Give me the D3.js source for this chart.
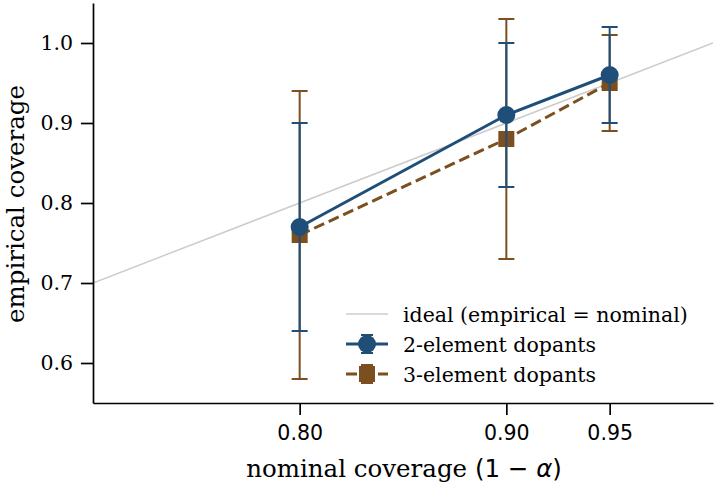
<!DOCTYPE html>
<html><head><meta charset="utf-8">
<script src="https://cdn.jsdelivr.net/npm/d3@7"></script>
<style>body{margin:0;background:#fff}svg{display:block}</style>
</head><body>
<script>
const nominal = [0.80, 0.90, 0.95];
const cov2 = [0.77, 0.91, 0.96];
const err2 = [0.13, 0.09, 0.06];
const cov3 = [0.76, 0.88, 0.95];
const err3 = [0.18, 0.15, 0.06];
const xTicks = [0.80, 0.90, 0.95];
const yTicks = [0.6, 0.7, 0.8, 0.9, 1.0];
const seriesNames = ["2-element dopants", "3-element dopants"];
const idealName = "ideal (empirical = nominal)";

const W = 717, H = 488;
const m = {l: 93, r: 4, t: 3, b: 85};
const blue = "#1f4e79", brown = "#7b4f1f";
const svg = d3.select("body").append("svg").attr("width", W).attr("height", H);
const x = d3.scaleLinear().domain([0.70, 1.00]).range([m.l, W - m.r]);
const y = d3.scaleLinear().domain([0.55, 1.05]).range([H - m.b, m.t]);

const plot = svg.append("g");
plot.append("clipPath").attr("id","c").append("rect").attr("x",m.l).attr("y",m.t).attr("width",W-m.r-m.l).attr("height",H-m.b-m.t);
const pg = plot.append("g").attr("clip-path","url(#c)");
// ideal
pg.append("line").attr("x1", x(0.70)).attr("y1", y(0.70)).attr("x2", x(1.0)).attr("y2", y(1.0))
  .attr("stroke", "#cccccc").attr("stroke-width", 1.5);

function drawSeries(vals, errs, color, dashed, marker) {
  const g = pg.append("g");
  nominal.forEach((n, i) => {
    const cx = x(n);
    g.append("line").attr("x1", cx).attr("x2", cx).attr("y1", y(vals[i] - errs[i])).attr("y2", y(vals[i] + errs[i]))
      .attr("stroke", color).attr("stroke-width", 2);
    [vals[i] - errs[i], vals[i] + errs[i]].forEach(v => {
      g.append("line").attr("x1", cx - 8).attr("x2", cx + 8).attr("y1", y(v)).attr("y2", y(v))
        .attr("stroke", color).attr("stroke-width", 2);
    });
  });
  g.append("path").datum(nominal.map((n, i) => [n, vals[i]]))
    .attr("d", d3.line().x(d => x(d[0])).y(d => y(d[1])))
    .attr("fill", "none").attr("stroke", color).attr("stroke-width", 3)
    .attr("stroke-dasharray", dashed ? "11,5" : null);
  nominal.forEach((n, i) => {
    if (marker === "circle") g.append("circle").attr("cx", x(n)).attr("cy", y(vals[i])).attr("r", 9).attr("fill", color);
    else g.append("rect").attr("x", x(n) - 8).attr("y", y(vals[i]) - 8).attr("width", 16).attr("height", 16).attr("fill", color);
  });
}
drawSeries(cov3, err3, brown, true, "square");
drawSeries(cov2, err2, blue, false, "circle");

// axes
const xa = svg.append("g").attr("transform", `translate(0,${H - m.b})`)
  .call(d3.axisBottom(x).tickValues(xTicks).tickFormat(d3.format(".2f")).tickSize(12).tickSizeOuter(0).tickPadding(10));
xa.selectAll("text").attr("font-family", "DejaVu Sans").attr("font-size", 20.5).attr("fill", "#000");
const ya = svg.append("g").attr("transform", `translate(${m.l},0)`)
  .call(d3.axisLeft(y).tickValues(yTicks).tickFormat(d3.format(".1f")).tickSize(12).tickSizeOuter(0).tickPadding(8));
ya.selectAll("text").attr("font-family", "DejaVu Serif").attr("font-size", 20.5).attr("fill", "#000");
svg.selectAll(".domain").attr("stroke", "#000").attr("stroke-width", 1.7);
svg.selectAll(".tick line").attr("stroke", "#000").attr("stroke-width", 1.7);

// labels
const xl = svg.append("text").attr("x", 404).attr("y", 477).attr("text-anchor", "middle")
  .attr("font-family", "DejaVu Serif").attr("font-size", 24.5);
xl.append("tspan").text("nominal coverage ");
xl.append("tspan").attr("font-family", "DejaVu Sans").text("(1 − ");
xl.append("tspan").attr("font-family", "DejaVu Sans").attr("font-style", "italic").text("α");
xl.append("tspan").attr("font-family", "DejaVu Sans").text(")");
svg.append("text").attr("transform", "translate(24,204) rotate(-90)").attr("text-anchor", "middle")
  .attr("font-family", "DejaVu Serif").attr("font-size", 24.5).text("empirical coverage");

// legend
const lg = svg.append("g");
const lx0 = 346, lx1 = 388, tx = 403, mx = 367;
const rows = [322, 352, 382].map(b => b - 8);
lg.append("line").attr("x1", lx0).attr("x2", lx1).attr("y1", rows[0]).attr("y2", rows[0]).attr("stroke", "#cccccc").attr("stroke-width", 1.5);
function legendErr(r, color, dashed, marker) {
  lg.append("line").attr("x1", lx0).attr("x2", lx1).attr("y1", r).attr("y2", r).attr("stroke", color).attr("stroke-width", 3)
    .attr("stroke-dasharray", dashed ? "11,5" : null);
  lg.append("line").attr("x1", mx).attr("x2", mx).attr("y1", r - 9).attr("y2", r + 9).attr("stroke", color).attr("stroke-width", 2);
  lg.append("line").attr("x1", mx - 6).attr("x2", mx + 6).attr("y1", r - 9).attr("y2", r - 9).attr("stroke", color).attr("stroke-width", 2);
  lg.append("line").attr("x1", mx - 6).attr("x2", mx + 6).attr("y1", r + 9).attr("y2", r + 9).attr("stroke", color).attr("stroke-width", 2);
  if (marker === "circle") lg.append("circle").attr("cx", mx).attr("cy", r).attr("r", 9).attr("fill", color);
  else lg.append("rect").attr("x", mx - 8).attr("y", r - 8).attr("width", 16).attr("height", 16).attr("fill", color);
}
legendErr(rows[1], blue, false, "circle");
legendErr(rows[2], brown, true, "square");
[idealName, seriesNames[0], seriesNames[1]].forEach((t, i) => {
  lg.append("text").attr("x", tx).attr("y", rows[i] + 8)
    .attr("font-family", "DejaVu Serif").attr("font-size", 20.5).attr("fill", "#000").text(t);
});
</script>
</body></html>
